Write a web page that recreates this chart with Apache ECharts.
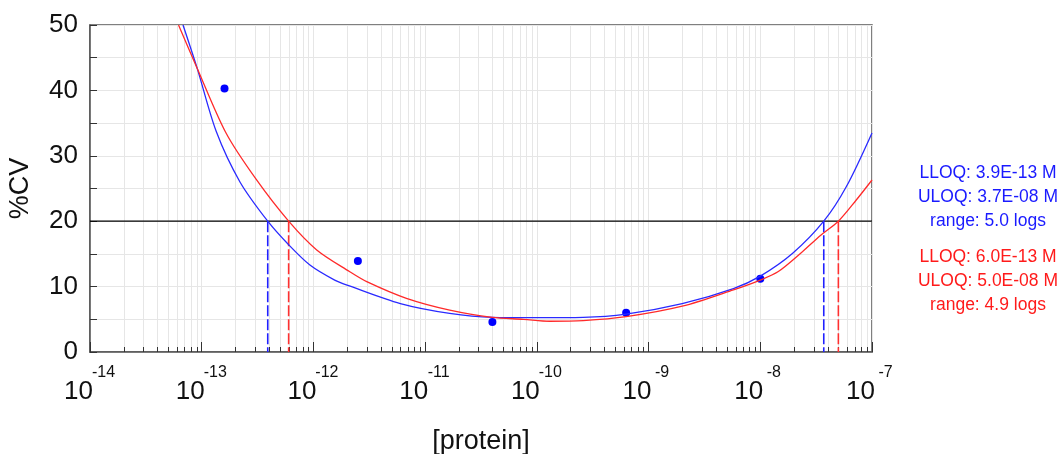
<!DOCTYPE html>
<html>
<head>
<meta charset="utf-8">
<script src="https://cdn.jsdelivr.net/npm/echarts@6/dist/echarts.min.js"></script>
<style>
html, body { margin: 0; padding: 0; background: #fff; }
#chart { width: 1060px; height: 454px; }
</style>
</head>
<body>
<div id="chart"></div>
<script>
// fitted precision profile, blue
const blueConc = [6.8e-14, 9.1e-14, 1.35e-13, 2.2e-13, 3.9e-13, 6.0e-13, 9.3e-13, 1.55e-12, 2.1e-12,
  6.0e-12, 1.66e-11, 4.0e-11, 1.0e-10, 2.6e-10, 6.3e-10, 2.0e-9, 5.75e-9, 1.0e-8, 1.95e-8, 3.7e-8, 5.9e-8, 1.0e-7];
const blueCV = [50, 43.4, 33.7, 26.0, 20.0, 16.4, 13.3, 11.0, 10.1,
  7.4, 5.9, 5.3, 5.25, 5.3, 5.8, 7.4, 9.7, 11.6, 15.1, 20.0, 25.3, 33.5];

// fitted precision profile, red
const redConc = [6.2e-14, 9.1e-14, 1.66e-13, 3.1e-13, 6.0e-13, 1.07e-12, 2.1e-12, 3.0e-12, 6.8e-12,
  1.66e-11, 4.0e-11, 7.6e-11, 1.3e-10, 2.6e-10, 6.3e-10, 2.0e-9, 5.75e-9, 1.0e-8, 1.45e-8, 2.3e-8, 3.5e-8, 5.0e-8, 7.2e-8, 1.0e-7];
const redCV = [50, 43.4, 33.4, 26.3, 20.0, 15.6, 12.3, 10.75, 8.2,
  6.4, 5.3, 5.0, 4.7, 4.8, 5.4, 7.0, 9.5, 11.0, 12.3, 15.1, 17.9, 20.0, 23.2, 26.3];

// measured points
const pointConc = [1.6e-13, 2.5e-12, 4.0e-11, 6.3e-10, 1.0e-8];
const pointCV = [40.3, 13.9, 4.6, 6.0, 11.2];

// limits of quantification
const cvLimit = 20;
const blueLimits = [3.9e-13, 3.7e-8];
const redLimits = [6.0e-13, 5.0e-8];
const blueText = ['LLOQ: 3.9E-13 M', 'ULOQ: 3.7E-08 M', 'range: 5.0 logs'];
const redText = ['LLOQ: 6.0E-13 M', 'ULOQ: 5.0E-08 M', 'range: 4.9 logs'];

// axis ranges
const xMin = 1e-14, xMax = 1e-7;
const yMin = 0, yMax = 50;

// minor log ticks 2..9 in each decade
const minorTicks = [];
for (let n = -14; n < -7; n++) {
  for (let k = 2; k <= 9; k++) minorTicks.push([k * Math.pow(10, n), 0]);
}

const zip = (xs, ys) => xs.map((x, i) => [x, ys[i]]);
const font = 'Liberation Sans, Arial, sans-serif';

const chart = echarts.init(document.getElementById('chart'));

function textLines(lines, color, y0) {
  return lines.map((t, i) => ({
    type: 'text',
    x: 988,
    y: y0 + i * 24,
    style: {
      text: t,
      fill: color,
      font: '17.5px ' + font,
      textAlign: 'center',
      textVerticalAlign: 'middle'
    }
  }));
}

const option = {
  animation: false,
  textStyle: { fontFamily: font },
  grid: {
    left: 90, right: 188, top: 25, bottom: 102,
    outerBoundsMode: 'none',
    show: true, borderColor: '#555', borderWidth: 1.5, backgroundColor: 'transparent'
  },
  xAxis: {
    type: 'log',
    logBase: 10,
    min: xMin,
    max: xMax,
    interval: 1,
    name: '[protein]',
    nameLocation: 'middle',
    nameGap: 76,
    nameTextStyle: { fontSize: 27, color: '#111', fontFamily: font },
    axisLine: { lineStyle: { color: '#555', width: 1.5 } },
    axisTick: { inside: true, length: 10, lineStyle: { color: '#333' } },
    splitLine: { show: true, lineStyle: { color: '#e6e6e6', width: 1 } },
    axisLabel: {
      margin: 15,
      formatter: function (v) {
        const e = Math.round(Math.log10(v));
        return '{e|' + e + '}\n{b|10}';
      },
      rich: {
        b: { fontSize: 26, color: '#111', fontFamily: font, lineHeight: 26, padding: [0, 23, 0, 0] },
        e: { fontSize: 16, color: '#111', fontFamily: font, lineHeight: 12, padding: [0, 0, 0, 27] }
      }
    }
  },
  yAxis: {
    type: 'value',
    min: yMin,
    max: yMax,
    interval: 10,
    name: '%CV',
    nameLocation: 'middle',
    nameGap: 56,
    nameTextStyle: { fontSize: 27, color: '#111', fontFamily: font },
    axisLine: { show: true, lineStyle: { color: '#555', width: 1.5 } },
    axisTick: { show: true, inside: true, length: 7, lineStyle: { color: '#333' } },
    minorTick: { show: true, splitNumber: 2, length: 7, lineStyle: { color: '#333' } },
    splitLine: { show: true, lineStyle: { color: '#e6e6e6' } },
    minorSplitLine: { show: true, lineStyle: { color: '#e6e6e6' } },
    axisLabel: { margin: 12, fontSize: 26, color: '#111', fontFamily: font }
  },
  graphic: textLines(blueText, '#1a1aff', 173).concat(textLines(redText, '#ff1a1a', 257)),
  series: [
    {
      type: 'custom',
      silent: true,
      data: minorTicks,
      encode: { x: 0, y: 1 },
      renderItem: function (params, api) {
        const v = api.value(0);
        const top = api.coord([v, yMax]);
        const bot = api.coord([v, yMin]);
        const x = Math.round(bot[0]) + 0.5;
        return {
          type: 'group',
          children: [
            { type: 'line', shape: { x1: x, y1: top[1], x2: x, y2: bot[1] }, style: { stroke: '#e6e6e6', lineWidth: 1 } },
            { type: 'line', shape: { x1: x, y1: bot[1], x2: x, y2: bot[1] - 5 }, style: { stroke: '#333', lineWidth: 1 } }
          ]
        };
      }
    },
    {
      type: 'line',
      silent: true,
      data: [[xMin, cvLimit], [xMax, cvLimit]],
      symbol: 'none',
      lineStyle: { color: '#000', width: 1.2 }
    },
    {
      type: 'line', silent: true, symbol: 'none',
      data: [[blueLimits[0], cvLimit], [blueLimits[0], yMin]],
      lineStyle: { color: '#2020ff', width: 1.6, type: [11, 3] }
    },
    {
      type: 'line', silent: true, symbol: 'none',
      data: [[blueLimits[1], cvLimit], [blueLimits[1], yMin]],
      lineStyle: { color: '#2020ff', width: 1.6, type: [11, 3] }
    },
    {
      type: 'line', silent: true, symbol: 'none',
      data: [[redLimits[0], cvLimit], [redLimits[0], yMin]],
      lineStyle: { color: '#ff3030', width: 1.6, type: [11, 3] }
    },
    {
      type: 'line', silent: true, symbol: 'none',
      data: [[redLimits[1], cvLimit], [redLimits[1], yMin]],
      lineStyle: { color: '#ff3030', width: 1.6, type: [11, 3] }
    },
    {
      type: 'line',
      silent: true,
      data: zip(blueConc, blueCV),
      symbol: 'none',
      smooth: 0.3,
      lineStyle: { color: '#2a2aff', width: 1.3 }
    },
    {
      type: 'line',
      silent: true,
      data: zip(redConc, redCV),
      symbol: 'none',
      smooth: 0.3,
      lineStyle: { color: '#ff2a2a', width: 1.3 }
    },
    {
      type: 'scatter',
      silent: true,
      data: zip(pointConc, pointCV),
      symbol: 'circle',
      symbolSize: 8,
      itemStyle: { color: '#0000ff', opacity: 1 }
    }
  ]
};

chart.setOption(option);
</script>
</body>
</html>
